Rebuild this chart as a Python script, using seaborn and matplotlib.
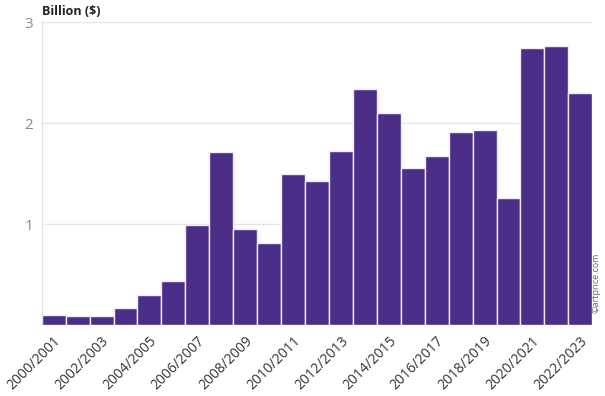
import pandas as pd
import matplotlib.pyplot as plt
import seaborn as sns

# Artprice annual turnover (billion $)
seasons = ["2000/2001", "2001/2002", "2002/2003", "2003/2004", "2004/2005",
           "2005/2006", "2006/2007", "2007/2008", "2008/2009", "2009/2010",
           "2010/2011", "2011/2012", "2012/2013", "2013/2014", "2014/2015",
           "2015/2016", "2016/2017", "2017/2018", "2018/2019", "2019/2020",
           "2020/2021", "2021/2022", "2022/2023"]
turnover = [0.10, 0.09, 0.09, 0.17, 0.30, 0.44, 0.99, 1.71, 0.95, 0.81,
            1.50, 1.43, 1.72, 2.34, 2.10, 1.56, 1.67, 1.91, 1.93, 1.26,
            2.74, 2.76, 2.30]
yticks = [1, 2, 3]

df = pd.DataFrame({"season": seasons, "turnover": turnover})

sns.set_style("white")
plt.rcParams['font.family'] = ['Open Sans', 'DejaVu Sans']

fig = plt.figure(figsize=(6.05, 3.96), dpi=100)
ax = fig.add_axes([0.069, 0.179, 0.91, 0.765])

sns.barplot(data=df, x="season", y="turnover", color="#4b2e87", saturation=1,
            width=1.0, edgecolor="#f0ecf6", linewidth=1.0, ax=ax)

ax.set_xlim(-0.5, len(seasons) - 0.5)
ax.set_ylim(0, 3)
ax.set_yticks(yticks)
ax.set_yticklabels([str(t) for t in yticks], color="#8a8a8a", fontsize=11)
ax.yaxis.grid(True, color="#e6e6e6", linewidth=1)
ax.set_axisbelow(True)
ax.tick_params(axis="y", length=0, pad=6)

ax.set_xticks(range(len(seasons)))
ax.set_xticklabels([s if i % 2 == 0 else "" for i, s in enumerate(seasons)],
                   rotation=45, ha="right", rotation_mode="anchor",
                   fontsize=10, color="#333333")
ax.tick_params(axis="x", length=0, pad=6)

ax.set_xlabel("")
ax.set_ylabel("")
for side in ["top", "right", "bottom"]:
    ax.spines[side].set_visible(False)
ax.spines["left"].set_color("#e0e0e0")

fig.text(0.069, 0.955, "Billion ($)", fontsize=9, fontweight="bold",
         color="#222222", ha="left", va="bottom")
fig.text(0.985, 0.285, "©artprice.com", fontsize=6.5, color="#666666",
         rotation=90, ha="center", va="center")

plt.savefig("out.png", dpi=100)
